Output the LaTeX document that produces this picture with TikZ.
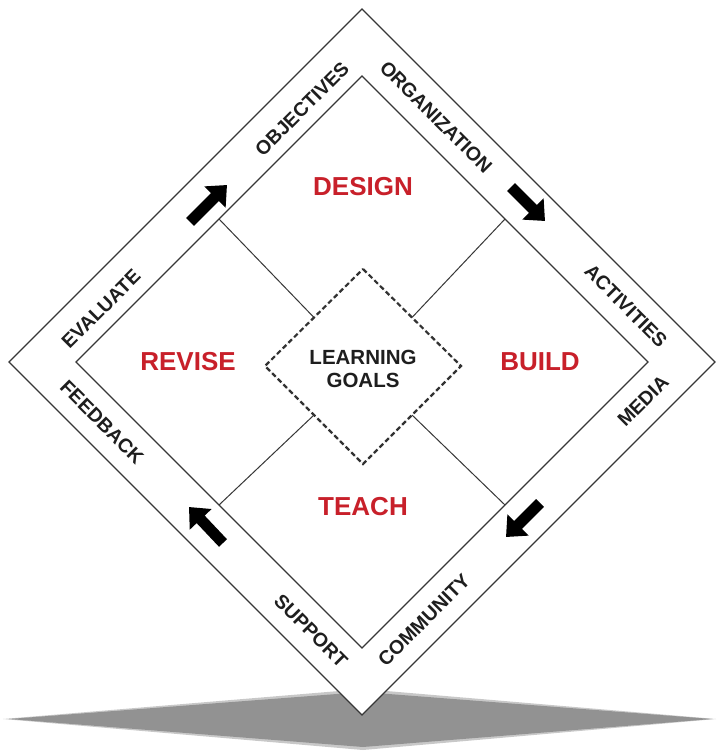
\documentclass[tikz,border=0pt]{standalone}
\usepackage{fontspec}
\setmainfont{Liberation Sans}
\usetikzlibrary{arrows.meta,calc}
\definecolor{ired}{RGB}{200,32,42}
\definecolor{itext}{RGB}{30,30,30}
\definecolor{iline}{RGB}{55,55,55}
\definecolor{gshade}{RGB}{146,146,146}
\begin{document}
\begin{tikzpicture}[x=1pt,y=-1pt,
  bandlabel/.style={font=\bfseries\fontsize{19.5}{19.5}\selectfont, text=itext, inner sep=0pt},
  biglabel/.style={font=\bfseries\fontsize{26}{26}\selectfont, text=ired, inner sep=0pt},
  flow/.style={line width=11pt, -{Triangle[length=17pt,width=29pt]}, black},
  edgeline/.style={draw=iline, line width=1.1pt},
  divider/.style={draw=iline, line width=1pt}
]
\useasboundingbox (0,0) rectangle (716,751);
% ground shadow
\fill[gshade, opacity=0.5] (3,719) -- (363,689) -- (716,719) -- (363,750) -- cycle;
\fill[gshade] (9,719) -- (363,692) -- (712,719) -- (363,747) -- cycle;
% coordinates
\coordinate (OT) at (362,9);
\coordinate (OR) at (715,362);
\coordinate (OB) at (362,715);
\coordinate (OL) at (9,362);
\coordinate (IT) at (362,76);
\coordinate (IR) at (648,362);
\coordinate (IB) at (362,648);
\coordinate (IL) at (76,362);
\coordinate (CT) at (363,269);
\coordinate (CR) at (461,366);
\coordinate (CB) at (363,464);
\coordinate (CL) at (265,366);
% outer diamond
\filldraw[fill=white, edgeline] (OT) -- (OR) -- (OB) -- (OL) -- cycle;
% inner diamond shadow
\foreach \d/\op in {10/0.05,8/0.06,6/0.07,4/0.08,2/0.1}{
  \fill[black, opacity=\op, shift={(0,\d)}] (IT) -- (IR) -- (IB) -- (IL) -- cycle;
}
\filldraw[fill=white, edgeline] (IT) -- (IR) -- (IB) -- (IL) -- cycle;
% dividers
\coordinate (M1) at ($(IT)!0.5!(IL)$);
\coordinate (M2) at ($(IT)!0.5!(IR)$);
\coordinate (M3) at ($(IB)!0.5!(IR)$);
\coordinate (M4) at ($(IB)!0.5!(IL)$);
\coordinate (N1) at ($(CT)!0.5!(CL)$);
\coordinate (N2) at ($(CT)!0.5!(CR)$);
\coordinate (N3) at ($(CB)!0.5!(CR)$);
\coordinate (N4) at ($(CB)!0.5!(CL)$);
\draw[divider] (M1) -- (N1);
\draw[divider] (M2) -- (N2);
\draw[divider] (M3) -- (N3);
\draw[divider] (M4) -- (N4);
% center diamond shadow
\foreach \d/\op in {8/0.06,6/0.08,4/0.1,2/0.12}{
  \fill[black, opacity=\op, shift={(0,\d)}] (CT) -- (CR) -- (CB) -- (CL) -- cycle;
}
\fill[white] (CT) -- (CR) -- (CB) -- (CL) -- cycle;
\draw[draw={rgb,255:red,50;green,50;blue,50}, line width=2.2pt, dash pattern=on 5pt off 3pt] (CT) -- (CR) -- (CB) -- (CL) -- cycle;
\node[font=\bfseries\fontsize{20.5}{23}\selectfont, text=itext, align=center, inner sep=0pt] (goals) at (363,369) {LEARNING\\GOALS};
% quadrant labels
\node[biglabel] (design) at (363,187) {DESIGN};
\node[biglabel] (revise) at (188,362) {REVISE};
\node[biglabel] (build) at (540,362) {BUILD};
\node[biglabel] (teach) at (363,507) {TEACH};
% band labels
\node[bandlabel, rotate=45] (objectives) at (302,109) {OBJECTIVES};
\node[bandlabel, rotate=45] (evaluate) at (101,309) {EVALUATE};
\node[bandlabel, rotate=-45] (organization) at (436,117) {ORGANIZATION};
\node[bandlabel, rotate=-45] (activities) at (626,306) {ACTIVITIES};
\node[bandlabel, rotate=45] (media) at (643,401) {MEDIA};
\node[bandlabel, rotate=45] (community) at (424,620) {COMMUNITY};
\node[bandlabel, rotate=-45] (support) at (311,631) {SUPPORT};
\node[bandlabel, rotate=-45] (feedback) at (102,422) {FEEDBACK};
% arrows
\coordinate (a1s) at (190,222);
\coordinate (a1e) at (227,185);
\coordinate (a2s) at (511,187);
\coordinate (a2e) at (545,221);
\coordinate (a3s) at (540,503);
\coordinate (a3e) at (506,537);
\coordinate (a4s) at (223,543);
\coordinate (a4e) at (189,507);
\draw[flow] (a1s) -- (a1e);
\draw[flow] (a2s) -- (a2e);
\draw[flow] (a3s) -- (a3e);
\draw[flow] (a4s) -- (a4e);
\end{tikzpicture}
\end{document}
